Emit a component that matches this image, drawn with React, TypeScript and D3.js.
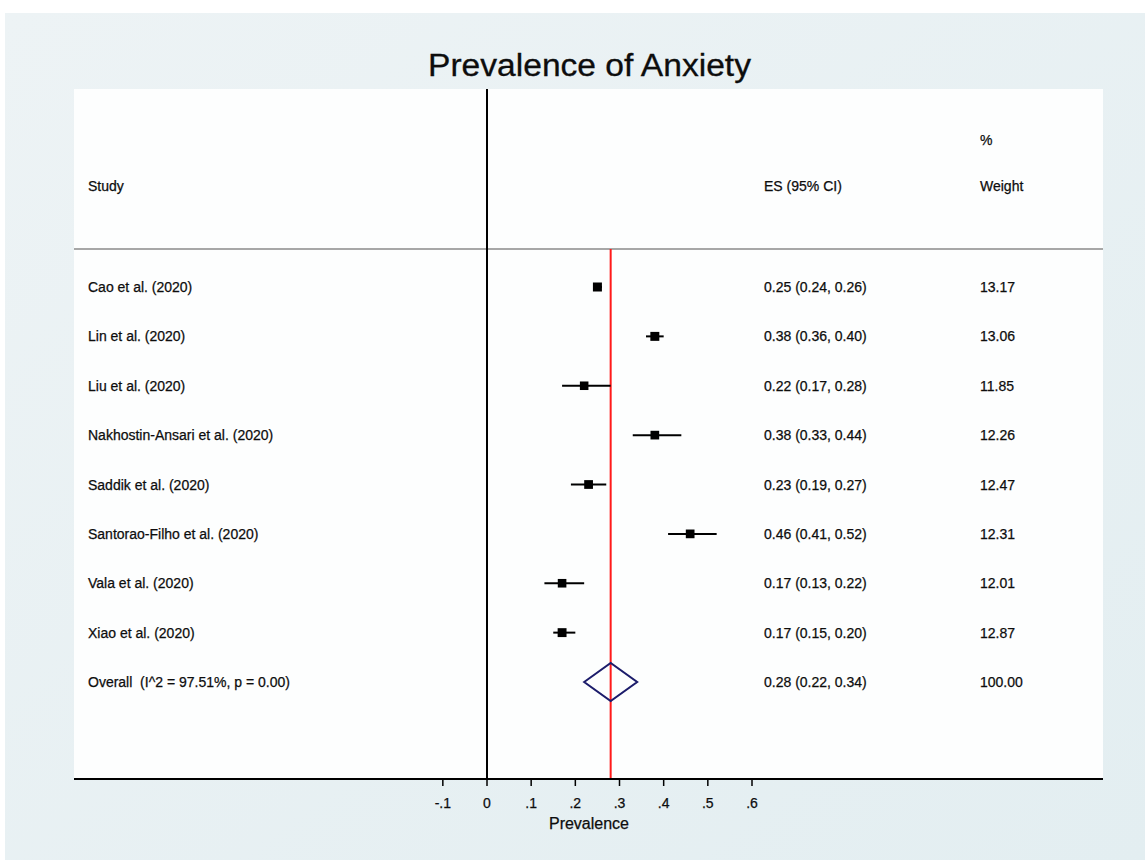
import React from "react";
import * as d3 from "d3";

const studies = [
  "Cao et al. (2020)",
  "Lin et al. (2020)",
  "Liu et al. (2020)",
  "Nakhostin-Ansari et al. (2020)",
  "Saddik et al. (2020)",
  "Santorao-Filho et al. (2020)",
  "Vala et al. (2020)",
  "Xiao et al. (2020)",
];
const es = [0.25, 0.38, 0.22, 0.38, 0.23, 0.46, 0.17, 0.17];
const lo = [0.24, 0.36, 0.17, 0.33, 0.19, 0.41, 0.13, 0.15];
const hi = [0.26, 0.40, 0.28, 0.44, 0.27, 0.52, 0.22, 0.20];
const weights = [13.17, 13.06, 11.85, 12.26, 12.47, 12.31, 12.01, 12.87];
const overallLabel = "Overall  (I^2 = 97.51%, p = 0.00)";
const overallES = 0.28;
const overallLo = 0.22;
const overallHi = 0.34;
const overallWeight = 100.0;
const xTicks = [-0.1, 0, 0.1, 0.2, 0.3, 0.4, 0.5, 0.6];
const tickLabels = ["-.1", "0", ".1", ".2", ".3", ".4", ".5", ".6"];

const W = 1145;
const H = 860;
const FONT = "'Liberation Sans', Arial, Helvetica, sans-serif";
const TXT = "#0d0d0d";

export default function App() {
  const x = d3.scaleLinear().domain([0, 0.6]).range([487, 752]);
  const rowLabels = [...studies, overallLabel];
  const y = d3
    .scalePoint<string>()
    .domain(rowLabels)
    .range([287, 682]);
  const box = d3.scaleSqrt().domain([0, 13.17]).range([0, 9]);
  const fmt = d3.format(".2f");

  const innerL = 74;
  const innerR = 1103;
  const innerT = 89;
  const axisY = 779;
  const headerLineY = 249;
  const fs = 14;
  const dy = 5;

  const oy = y(overallLabel)!;
  const diamond = [
    [x(overallLo), oy],
    [x(overallES), oy - 19],
    [x(overallHi), oy],
    [x(overallES), oy + 19],
  ];

  const txtProps = { fontSize: fs, fill: TXT, stroke: TXT, strokeWidth: 0.25 };

  return (
    <svg
      width={W}
      height={H}
      style={{ position: "absolute", left: 0, top: 0 }}
      fontFamily={FONT}
    >
      <defs>
        <linearGradient id="bg" x1="0" y1="0" x2="1" y2="1">
          <stop offset="0" stopColor="#edf3f5" />
          <stop offset="1" stopColor="#e3eef1" />
        </linearGradient>
      </defs>
      <rect x={0} y={0} width={W} height={H} fill="#ffffff" />
      <rect x={5} y={13} width={W - 5} height={H - 13} fill="url(#bg)" />
      <rect
        x={innerL}
        y={innerT}
        width={innerR - innerL}
        height={axisY - innerT}
        fill="#fdfefe"
      />

      <text
        x={589.5}
        y={76}
        textAnchor="middle"
        fontSize={31}
        fill={TXT}
        stroke={TXT}
        strokeWidth={0.3}
        textLength={323}
        lengthAdjust="spacingAndGlyphs"
      >
        Prevalence of Anxiety
      </text>

      {/* header */}
      <text x={88} y={191} {...txtProps}>Study</text>
      <text x={764} y={191} {...txtProps}>ES (95% CI)</text>
      <text x={980} y={145} {...txtProps}>%</text>
      <text x={980} y={191} {...txtProps}>Weight</text>
      <line
        x1={innerL}
        x2={innerR}
        y1={headerLineY}
        y2={headerLineY}
        stroke="#8a8a8a"
        strokeWidth={1.3}
      />

      {/* zero line */}
      <line x1={x(0)} x2={x(0)} y1={innerT} y2={axisY} stroke="#000" strokeWidth={2} />
      {/* overall line */}
      <line
        x1={x(overallES)}
        x2={x(overallES)}
        y1={headerLineY}
        y2={axisY}
        stroke="#ff1a1a"
        strokeWidth={2}
      />

      {studies.map((s, i) => {
        const cy = y(s)!;
        const b = box(weights[i]);
        return (
          <g key={s}>
            <text x={88} y={cy + dy} {...txtProps}>{s}</text>
            <line x1={x(lo[i])} x2={x(hi[i])} y1={cy} y2={cy} stroke="#000" strokeWidth={2} />
            <rect x={x(es[i]) - b / 2} y={cy - b / 2} width={b} height={b} fill="#000" />
            <text x={764} y={cy + dy} {...txtProps}>
              {`${fmt(es[i])} (${fmt(lo[i])}, ${fmt(hi[i])})`}
            </text>
            <text x={980} y={cy + dy} {...txtProps}>{fmt(weights[i])}</text>
          </g>
        );
      })}

      <text x={88} y={oy + dy} {...txtProps} xmlSpace="preserve">{overallLabel}</text>
      <polygon
        points={diamond.map((p) => p.join(",")).join(" ")}
        fill="none"
        stroke="#1c1c6b"
        strokeWidth={2}
      />
      <text x={764} y={oy + dy} {...txtProps}>
        {`${fmt(overallES)} (${fmt(overallLo)}, ${fmt(overallHi)})`}
      </text>
      <text x={980} y={oy + dy} {...txtProps}>{fmt(overallWeight)}</text>

      {/* axis */}
      <line x1={innerL} x2={innerR} y1={axisY} y2={axisY} stroke="#000" strokeWidth={2} />
      {xTicks.map((t, i) => (
        <g key={t}>
          <line x1={x(t)} x2={x(t)} y1={axisY} y2={axisY + 7} stroke="#000" strokeWidth={1.5} />
          <text x={x(t)} y={808} textAnchor="middle" {...txtProps}>
            {tickLabels[i]}
          </text>
        </g>
      ))}
      <text x={589} y={829} textAnchor="middle" {...txtProps} fontSize={16}>Prevalence</text>
    </svg>
  );
}
